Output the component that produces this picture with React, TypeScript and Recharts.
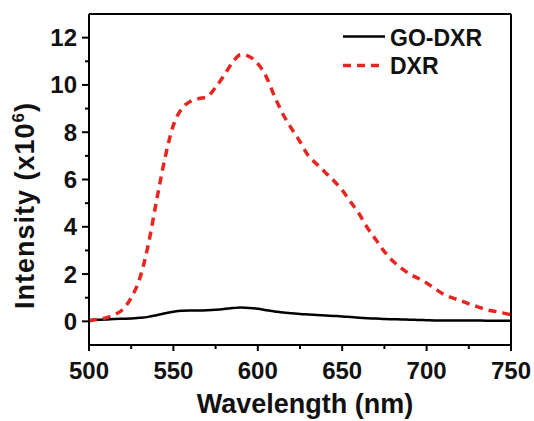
import { LineChart, Line, XAxis, YAxis, Legend, ReferenceLine } from "recharts"

const wavelength = [
  500, 505, 510, 515, 520, 525, 530, 535, 540, 545, 550, 555, 560, 565, 570, 575, 580, 585, 590, 595, 600,
  605, 610, 615, 620, 625, 630, 635, 640, 645, 650, 655, 660, 665, 670, 675, 680, 685, 690, 695, 700,
  705, 710, 715, 720, 725, 730, 735, 740, 745, 750,
]

const goDxr = [
  0.06, 0.07, 0.08, 0.1, 0.11, 0.12, 0.15, 0.19, 0.26, 0.34, 0.41, 0.45, 0.46, 0.46, 0.47, 0.49, 0.52, 0.56, 0.59, 0.57, 0.53,
  0.47, 0.42, 0.37, 0.34, 0.31, 0.29, 0.27, 0.25, 0.23, 0.21, 0.18, 0.15, 0.13, 0.12, 0.1, 0.09, 0.08, 0.07, 0.06, 0.05,
  0.04, 0.04, 0.04, 0.04, 0.04, 0.04, 0.03, 0.03, 0.03, 0.03,
]

const dxr = [
  0.02, 0.08, 0.15, 0.28, 0.5, 1.0, 1.8, 3.2, 5.1, 6.9, 8.3, 9.0, 9.3, 9.42, 9.5, 9.9, 10.4, 10.95, 11.28, 11.2, 10.9,
  10.35, 9.5, 8.75, 8.15, 7.6, 7.0, 6.65, 6.3, 5.95, 5.55, 5.05, 4.55, 3.95, 3.45, 2.95, 2.55, 2.25, 2.0, 1.82, 1.62,
  1.38, 1.15, 1.0, 0.88, 0.74, 0.62, 0.5, 0.43, 0.36, 0.28,
]

const xTicks = [500, 525, 550, 575, 600, 625, 650, 675, 700, 725, 750]
const yTicks = [0, 1, 2, 3, 4, 5, 6, 7, 8, 9, 10, 11, 12]

const seriesNames = { goDxr: "GO-DXR", dxr: "DXR" }

const data = wavelength.map((wl, i) => ({ wl, goDxr: goDxr[i], dxr: dxr[i] }))

const font = "'Liberation Sans', Arial, sans-serif"
const red = "#e8261f"

const XTick = ({ x, y, payload }: any) => {
  const major = payload.value % 50 === 0
  return (
    <g>
      <line x1={x} x2={x} y1={y} y2={y + (major ? 6 : 4)} stroke="#000" strokeWidth={2} />
      {major && (
        <text x={x} y={y + 34} textAnchor="middle" fontFamily={font} fontWeight="bold" fontSize={24} fill="#111">
          {payload.value}
        </text>
      )}
    </g>
  )
}

const YTick = ({ x, y, payload }: any) => {
  const major = payload.value % 2 === 0
  return (
    <g>
      <line x1={x - (major ? 7 : 4)} x2={x} y1={y} y2={y} stroke="#000" strokeWidth={2} />
      {major && (
        <text x={x - 12} y={y + 8.5} textAnchor="end" fontFamily={font} fontWeight="bold" fontSize={24} fill="#111">
          {payload.value}
        </text>
      )}
    </g>
  )
}

const XTitle = ({ viewBox }: any) => (
  <text
    x={viewBox.x + viewBox.width / 2 + 5}
    y={viewBox.y + 68}
    textAnchor="middle"
    fontFamily={font}
    fontWeight="bold"
    fontSize={27}
    fill="#111"
  >
    Wavelength (nm)
  </text>
)

const YTitle = ({ viewBox }: any) => {
  const cx = 34
  const cy = viewBox.y + viewBox.height / 2 + 26
  return (
    <text
      x={cx}
      y={cy}
      transform={`rotate(-90, ${cx}, ${cy})`}
      textAnchor="middle"
      fontFamily={font}
      fontWeight="bold"
      fontSize={27}
      letterSpacing={1}
      fill="#111"
    >
      Intensity (x10<tspan dy={-10} fontSize={17}>6</tspan>
      <tspan dy={10}>)</tspan>
    </text>
  )
}

const LegendBox = () => (
  <svg width={170} height={60}>
    <line x1={3} x2={45} y1={14.5} y2={14.5} stroke="#000" strokeWidth={2.5} />
    <text x={50} y={24} fontFamily={font} fontWeight="bold" fontSize={23} fill="#111">
      {seriesNames.goDxr}
    </text>
    <line x1={3} x2={45} y1={43.5} y2={43.5} stroke={red} strokeWidth={3.5} strokeDasharray="8 6" />
    <text x={50} y={51.5} fontFamily={font} fontWeight="bold" fontSize={23} fill="#111">
      {seriesNames.dxr}
    </text>
  </svg>
)

export default function App() {
  return (
    <div style={{ position: "absolute", left: 0, top: 0, width: 534, height: 421, background: "#fff" }}>
      <LineChart width={534} height={421} data={data} margin={{ top: 14, right: 23, left: 0, bottom: 0 }}>
        <XAxis
          dataKey="wl"
          type="number"
          domain={[500, 750]}
          ticks={xTicks}
          interval={0}
          height={76}
          tickSize={0}
          tickMargin={0}
          tickLine={false}
          tick={<XTick />}
          axisLine={{ stroke: "#000", strokeWidth: 2 }}
          label={<XTitle />}
        />
        <YAxis
          type="number"
          domain={[-1, 13]}
          ticks={yTicks}
          interval={0}
          width={89}
          tickSize={0}
          tickMargin={0}
          tickLine={false}
          tick={<YTick />}
          axisLine={{ stroke: "#000", strokeWidth: 2 }}
          label={<YTitle />}
        />
        <ReferenceLine y={13} stroke="#000" strokeWidth={2} />
        <ReferenceLine x={750} stroke="#000" strokeWidth={2} />
        <Legend
          layout="vertical"
          align="center"
          verticalAlign="middle"
          content={<LegendBox />}
          wrapperStyle={{ left: 340, top: 22, width: 170, height: 60 }}
        />
        <Line
          dataKey="goDxr"
          name={seriesNames.goDxr}
          type="monotone"
          stroke="#000"
          strokeWidth={2.5}
          dot={false}
          isAnimationActive={false}
        />
        <Line
          dataKey="dxr"
          name={seriesNames.dxr}
          type="monotone"
          stroke={red}
          strokeWidth={3.5}
          strokeDasharray="8 6"
          dot={false}
          isAnimationActive={false}
        />
      </LineChart>
    </div>
  )
}
